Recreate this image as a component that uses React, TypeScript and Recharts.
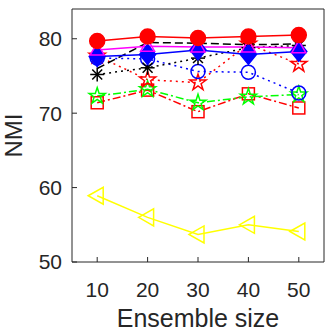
import { LineChart, Line, XAxis, YAxis } from "recharts"

const sizes = [10, 20, 30, 40, 50]
const redCircle = [79.7, 80.3, 80.1, 80.3, 80.5]
const magentaTri = [78.5, 79.0, 78.9, 78.9, 78.8]
const blueDiamond = [77.6, 77.9, 78.5, 77.9, 78.3]
const blackDash = [76.0, 79.5, 79.4, 79.2, 79.3]
const blackStar = [75.2, 76.1, 77.4, 78.8, 79.1]
const blueCircle = [77.4, 77.3, 75.6, 75.5, 72.7]
const redStar = [77.7, 74.5, 74.1, 79.3, 76.6]
const greenStar = [72.3, 73.2, 71.4, 72.2, 72.5]
const redSquare = [71.4, 73.1, 70.2, 72.6, 70.7]
const yellowTri = [58.9, 56.0, 53.7, 55.0, 54.1]

const xTicks = [10, 20, 30, 40, 50]
const yTicks = [50, 60, 70, 80]

const data = sizes.map((s, i) => ({
  size: s,
  redCircle: redCircle[i],
  magentaTri: magentaTri[i],
  blueDiamond: blueDiamond[i],
  blackDash: blackDash[i],
  blackStar: blackStar[i],
  blueCircle: blueCircle[i],
  redStar: redStar[i],
  greenStar: greenStar[i],
  redSquare: redSquare[i],
  yellowTri: yellowTri[i],
}))

const AX = "#262626"
const FONT = "'Liberation Sans', Arial, Helvetica, sans-serif"
const DOT = "2 4"
const DASHDOT = "8 3 2 3"

const star = (cx: number, cy: number, R: number) => {
  const r = R * 0.382
  const pts: string[] = []
  for (let k = 0; k < 10; k++) {
    const a = -Math.PI / 2 + (k * Math.PI) / 5
    const rr = k % 2 === 0 ? R : r
    pts.push(`${cx + rr * Math.cos(a)},${cy + rr * Math.sin(a)}`)
  }
  return pts.join(" ")
}

const Marker = ({ cx, cy, shape, color }: any) => {
  if (cx == null || cy == null) return null
  const sw = 1.5
  switch (shape) {
    case "fcircle":
      return <circle cx={cx} cy={cy} r={7.5} fill={color} stroke={color} strokeWidth={sw} />
    case "ocircle":
      return <circle cx={cx} cy={cy} r={7} fill="none" stroke={color} strokeWidth={sw} />
    case "triup":
      return <polygon points={`${cx},${cy - 7} ${cx - 7},${cy + 5} ${cx + 7},${cy + 5}`} fill="none" stroke={color} strokeWidth={sw} />
    case "trileft":
      return <polygon points={`${cx - 9},${cy} ${cx + 6},${cy - 8.5} ${cx + 6},${cy + 8.5}`} fill="none" stroke={color} strokeWidth={sw} />
    case "diamond":
      return <polygon points={`${cx},${cy - 10} ${cx + 8},${cy} ${cx},${cy + 10} ${cx - 8},${cy}`} fill={color} stroke={color} strokeWidth={sw} />
    case "square":
      return <rect x={cx - 6} y={cy - 6} width={12} height={12} fill="none" stroke={color} strokeWidth={sw} />
    case "star":
      return <polygon points={star(cx, cy, 8.5)} fill="none" stroke={color} strokeWidth={sw} />
    case "asterisk": {
      const r = 7
      const d = r * 0.707
      return (
        <g stroke={color} strokeWidth={sw}>
          <line x1={cx - r} y1={cy} x2={cx + r} y2={cy} />
          <line x1={cx} y1={cy - r} x2={cx} y2={cy + r} />
          <line x1={cx - d} y1={cy - d} x2={cx + d} y2={cy + d} />
          <line x1={cx - d} y1={cy + d} x2={cx + d} y2={cy - d} />
        </g>
      )
    }
    default:
      return null
  }
}

const dotFor = (shape: string, color: string) => (p: any) =>
  <Marker key={`${shape}-${p.index}`} cx={p.cx} cy={p.cy} shape={shape} color={color} />

const series = [
  { key: "yellowTri", color: "#ffff00", dash: undefined, shape: "trileft" },
  { key: "redSquare", color: "#ff0000", dash: DASHDOT, shape: "square" },
  { key: "greenStar", color: "#00ff00", dash: DASHDOT, shape: "star" },
  { key: "redStar", color: "#ff0000", dash: DOT, shape: "star" },
  { key: "blueCircle", color: "#0000ff", dash: DOT, shape: "ocircle" },
  { key: "blackStar", color: "#000000", dash: DOT, shape: "asterisk" },
  { key: "blackDash", color: "#000000", dash: "8 4", shape: "none" },
  { key: "blueDiamond", color: "#0000ff", dash: undefined, shape: "diamond" },
  { key: "magentaTri", color: "#ff00ff", dash: undefined, shape: "triup" },
  { key: "redCircle", color: "#ff0000", dash: undefined, shape: "fcircle" },
]

export default function App() {
  return (
    <div style={{ position: "absolute", left: 0, top: 0, width: 327, height: 334, background: "#fff" }}>
      <LineChart width={327} height={334} data={data} margin={{ top: 8, right: 2, bottom: 0, left: 0 }}>
        <XAxis
          dataKey="size" type="number" domain={[5, 55]} ticks={xTicks} height={72}
          stroke={AX} tickSize={-5} tickMargin={25}
          tick={{ fontSize: 21, fill: AX, fontFamily: FONT }}
          label={{ value: "Ensemble size", position: "insideBottom", offset: 7, fontSize: 25, fill: AX, fontFamily: FONT }}
        />
        <XAxis xAxisId="top" orientation="top" dataKey="size" type="number" domain={[5, 55]} ticks={xTicks} height={1} stroke={AX} tickSize={-5} tick={false} />
        <YAxis
          type="number" domain={[50, 84]} ticks={yTicks} width={72}
          stroke={AX} tickSize={-5} tickMargin={15}
          tick={{ fontSize: 21, fill: AX, fontFamily: FONT }}
          label={({ viewBox }: any) => {
            const x = 22
            const y = viewBox.y + viewBox.height / 2
            return (
              <text x={x} y={y} transform={`rotate(-90, ${x}, ${y})`} textAnchor="middle" fontSize={24} fill={AX} fontFamily={FONT}>
                NMI
              </text>
            )
          }}
        />
        <YAxis yAxisId="right" orientation="right" type="number" domain={[50, 84]} ticks={yTicks} width={1} stroke={AX} tickSize={-5} tick={false} />
        {series.map((s) => (
          <Line
            key={s.key} dataKey={s.key} stroke={s.color} strokeWidth={1.5}
            strokeDasharray={s.dash} dot={dotFor(s.shape, s.color)} activeDot={false}
            isAnimationActive={false}
          />
        ))}
      </LineChart>
    </div>
  )
}
